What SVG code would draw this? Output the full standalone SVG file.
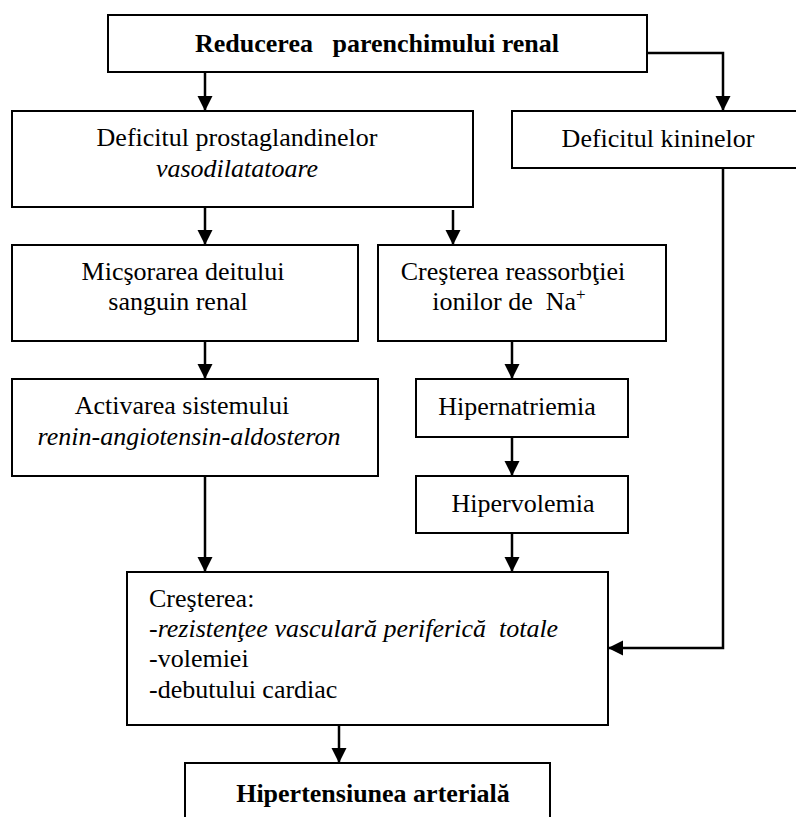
<svg xmlns="http://www.w3.org/2000/svg" width="796" height="817" viewBox="0 0 796 817">
<style>
  .box { fill: #ffffff; stroke: #000000; stroke-width: 2; }
  .t { font-family: "Liberation Serif", "Times New Roman", serif; font-size: 26px; fill: #000000; }
  .c { text-anchor: middle; }
  .b { font-weight: bold; }
  .i { font-style: italic; }
  .conn { fill: none; stroke: #000000; stroke-width: 2.5; marker-end: url(#arrow); }
</style>
<defs>
  <marker id="arrow" markerUnits="userSpaceOnUse" markerWidth="16" markerHeight="16" refX="15" refY="7.5" orient="auto">
    <path d="M0,0 L15,7.5 L0,15 z" fill="#000000"/>
  </marker>
</defs>
<rect width="796" height="817" fill="#ffffff"/>

<g id="connectors">
  <path class="conn" d="M205,72 V111"/>
  <path class="conn" d="M647,53 H723 V111"/>
  <path class="conn" d="M205,207 V245"/>
  <path class="conn" d="M453,210 V245"/>
  <path class="conn" d="M205,341 V379"/>
  <path class="conn" d="M205,476 V572"/>
  <path class="conn" d="M512,341 V379"/>
  <path class="conn" d="M512,437 V476"/>
  <path class="conn" d="M512,533 V572"/>
  <path class="conn" d="M723,168 V648 H608"/>
  <path class="conn" d="M339,725 V763"/>
</g>

<g id="n-reducerea">
  <rect class="box" x="108" y="15" width="539" height="57"/>
  <text class="t c b" x="377" y="52" xml:space="preserve">Reducerea   parenchimului renal</text>
</g>

<g id="n-prostaglandine">
  <rect class="box" x="12" y="111" width="461" height="96"/>
  <text class="t c" x="237" y="146">Deficitul prostaglandinelor</text>
  <text class="t c i" x="237" y="177">vasodilatatoare</text>
</g>

<g id="n-kinine">
  <rect class="box" x="512" y="111" width="320" height="57"/>
  <text class="t c" x="658" y="147">Deficitul kininelor</text>
</g>

<g id="n-micsorarea">
  <rect class="box" x="12" y="245" width="346" height="96"/>
  <text class="t c" x="183" y="280">Micşorarea deitului</text>
  <text class="t c" x="178" y="310">sanguin renal</text>
</g>

<g id="n-reabsorbtie">
  <rect class="box" x="378" y="245" width="288" height="96"/>
  <text class="t c" x="513" y="280">Creşterea reassorbţiei</text>
  <text class="t c" x="509" y="310" xml:space="preserve">ionilor de  Na<tspan font-size="17" dy="-10">+</tspan></text>
</g>

<g id="n-activarea">
  <rect class="box" x="12" y="379" width="366" height="97"/>
  <text class="t c" x="182" y="414">Activarea sistemului</text>
  <text class="t c i" x="189" y="445">renin-angiotensin-aldosteron</text>
</g>

<g id="n-hipernatriemia">
  <rect class="box" x="416" y="379" width="212" height="58"/>
  <text class="t c" x="517" y="415">Hipernatriemia</text>
</g>

<g id="n-hipervolemia">
  <rect class="box" x="416" y="476" width="212" height="57"/>
  <text class="t c" x="523" y="512">Hipervolemia</text>
</g>

<g id="n-cresterea">
  <rect class="box" x="127" y="572" width="481" height="153"/>
  <text class="t" x="149" y="607">Creşterea:</text>
  <text class="t i" x="149" y="637" xml:space="preserve">-rezistenţee vasculară periferică  totale</text>
  <text class="t" x="149" y="667">-volemiei</text>
  <text class="t" x="149" y="698">-debutului cardiac</text>
</g>

<g id="n-hipertensiunea">
  <rect class="box" x="185" y="763" width="365" height="70"/>
  <text class="t c b" x="373" y="802">Hipertensiunea arterială</text>
</g>
</svg>
